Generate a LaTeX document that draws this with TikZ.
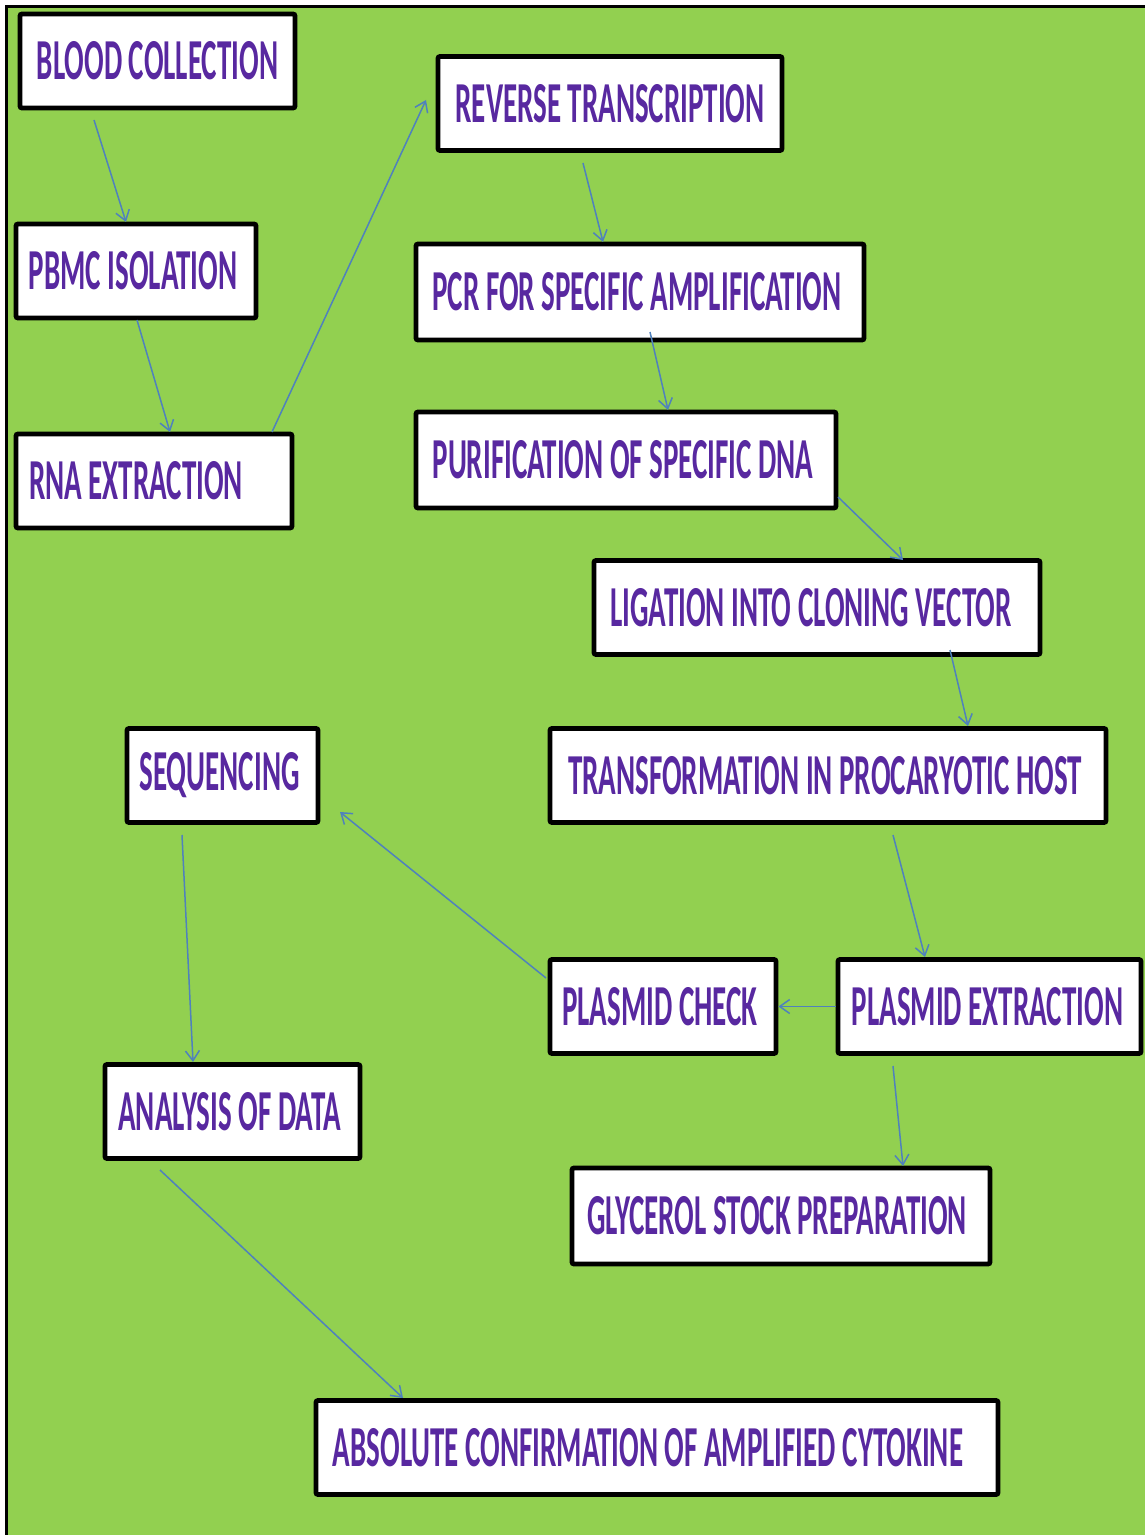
\documentclass[tikz,border=0pt]{standalone}
\usepackage{fontspec}
\usepackage{graphicx}
\setmainfont{Carlito}
\usetikzlibrary{arrows.meta,calc}
\definecolor{bggreen}{HTML}{92D050}
\definecolor{txtpurple}{RGB}{88,40,160}
\definecolor{arrowblue}{HTML}{4F81BD}
\newcommand{\boxfont}{\fontsize{14.5pt}{17pt}\selectfont\bfseries}
\newcommand{\tallt}[2][0pt]{\scalebox{1}[2]{#2}\kern#1}
\tikzset{
  stepbox/.style={draw=black, line width=2.4pt, fill=white, rounded corners=1pt,
    text=txtpurple, font=\boxfont, inner sep=0pt, minimum height=47pt,
    minimum width=#1},
  conn/.style={draw=arrowblue, line width=0.75pt, -{Straight Barb[length=5pt,width=7pt]}}
}
\begin{document}
\begin{tikzpicture}[x=0.5pt,y=-0.5pt]
\useasboundingbox (0,0) rectangle (1145,1535);
\fill[white] (0,0) rectangle (1145,1535);
\fill[bggreen] (6.5,6.5) rectangle (1145,1535);
\draw[black, line width=1.25pt] (6.5,1535) -- (6.5,6.5) -- (1145,6.5);

\node[stepbox=137.5pt] (blood) at (157.5,61) {\tallt{BLOOD COLLECTION}};
\node[stepbox=120pt] (pbmc) at (136,271) {\tallt[3pt]{PBMC ISOLATION}};
\node[stepbox=138pt] (rna) at (154,481) {\tallt[18pt]{RNA EXTRACTION}};
\node[stepbox=172pt] (rev) at (610,103.5) {\tallt{REVERSE TRANSCRIPTION}};
\node[stepbox=224pt, minimum height=48pt] (pcr) at (640,292) {\tallt[3pt]{PCR FOR SPECIFIC AMPLIFICATION}};
\node[stepbox=210pt, minimum height=48pt] (pur) at (626,460) {\tallt[3pt]{PURIFICATION OF SPECIFIC DNA}};
\node[stepbox=223pt] (lig) at (817,607.5) {\tallt[6pt]{LIGATION INTO CLONING VECTOR}};
\node[stepbox=278pt] (trans) at (828,775.5) {\tallt[3pt]{TRANSFORMATION IN PROCARYOTIC HOST}};
\node[stepbox=95.5pt] (seq) at (222.5,775.5) {\tallt[3pt]{SEQUENCING}};
\node[stepbox=113pt] (check) at (663,1006.5) {\tallt[3pt]{PLASMID CHECK}};
\node[stepbox=151.5pt] (ext) at (989.5,1006.5) {\tallt[2pt]{PLASMID EXTRACTION}};
\node[stepbox=127.5pt] (anal) at (232.5,1111.5) {\tallt[3pt]{ANALYSIS OF DATA}};
\node[stepbox=209pt, minimum height=48pt] (gly) at (781,1216) {\tallt[4pt]{GLYCEROL STOCK PREPARATION}};
\node[stepbox=341pt] (abs) at (657,1447.5) {\tallt[9pt]{ABSOLUTE CONFIRMATION OF AMPLIFIED CYTOKINE}};

\draw[conn] ($(blood)+(-63.5,59)$) -- ($(pbmc)+(-10,-49)$);
\draw[conn] ($(pbmc)+(1,49)$) -- ($(rna)+(16,-49)$);
\draw[conn] ($(rna)+(118,-49)$) -- ($(rev)+(-184,-3.5)$);
\draw[conn] ($(rev)+(-27,59.5)$) -- ($(pcr)+(-37,-50)$);
\draw[conn] ($(pcr)+(10,40)$) -- ($(pur)+(42,-50)$);
\draw[conn] ($(pur)+(212,37)$) -- ($(lig)+(86,-47.5)$);
\draw[conn] ($(lig)+(133,42.5)$) -- ($(trans)+(140,-49.5)$);
\draw[conn] ($(trans)+(65,59.5)$) -- ($(ext)+(-64.5,-49.5)$);
\draw[conn] (ext.west) -- (check.east);
\draw[conn] ($(check)+(-117,-28.5)$) -- ($(seq)+(117.5,36.5)$);
\draw[conn] ($(seq)+(-40.5,59.5)$) -- ($(anal)+(-39.5,-49.5)$);
\draw[conn] ($(ext)+(-96.5,59.5)$) -- ($(gly)+(122,-50)$);
\draw[conn] ($(anal)+(-72.5,58.5)$) -- ($(abs)+(-254,-49.5)$);
\end{tikzpicture}
\end{document}
